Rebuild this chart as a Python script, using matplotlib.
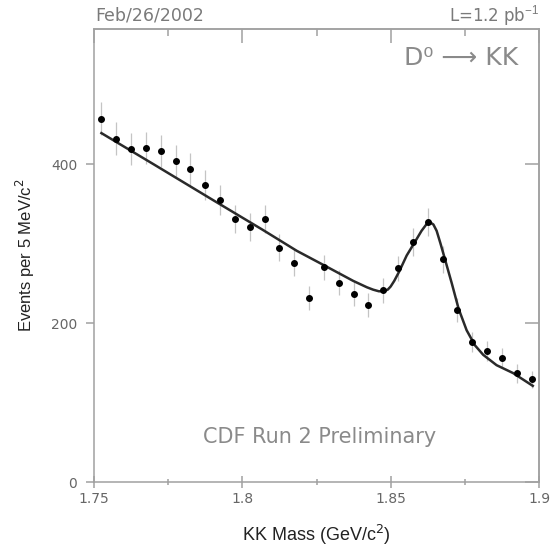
import matplotlib
matplotlib.use("Agg")
import matplotlib.pyplot as plt
from matplotlib.ticker import MultipleLocator

# KK invariant mass, bin centres (GeV/c^2) and counts per 5 MeV/c^2
mass = [1.7525, 1.7575, 1.7625, 1.7675, 1.7725, 1.7775, 1.7825, 1.7875,
        1.7925, 1.7975, 1.8025, 1.8075, 1.8125, 1.8175, 1.8225, 1.8275,
        1.8325, 1.8375, 1.8425, 1.8475, 1.8525, 1.8575, 1.8625, 1.8675,
        1.8725, 1.8775, 1.8825, 1.8875, 1.8925, 1.8975]
events = [457, 432, 419, 420, 416, 404, 394, 374, 355, 331, 321, 331, 295, 276, 232,
          270, 251, 237, 223, 241, 269, 302, 327, 280, 216, 176, 165, 156, 137, 129]
errors = [21, 21, 20, 20, 20, 20, 20, 19, 19, 18, 18, 18, 17, 17, 15,
          16, 16, 15, 15, 16, 16, 17, 18, 17, 15, 13, 13, 12, 12, 11]

# fitted curve
fit_x = [1.7525, 1.7700, 1.7900, 1.8070, 1.8183, 1.8284, 1.8374, 1.8420, 1.8441,
         1.8460, 1.8475, 1.8490, 1.8500, 1.8512, 1.8529, 1.8554, 1.8580, 1.8604,
         1.8620, 1.8632, 1.8644, 1.8655, 1.8668, 1.8681, 1.8706, 1.8729, 1.8756,
         1.8784, 1.8812, 1.8857, 1.8913, 1.8979]
fit_y = [439, 400, 355, 317, 291, 271, 253, 245, 242,
         240, 240, 242, 246, 253, 265, 285, 301, 316,
         324, 327, 324, 316, 300, 283, 250, 218, 191,
         172, 160, 147, 137, 121]

W, H = 550, 549
fig = plt.figure(figsize=(5.5, 5.49), dpi=100)
ax = fig.add_axes([94 / W, 1 - 482 / H, (539 - 94) / W, (482 - 29) / H])

spine_col = '#a0a0a0'
ax.errorbar(mass, events, yerr=errors, fmt='none', ecolor='#c4c4c4', elinewidth=0.9, zorder=2)
ax.plot(fit_x, fit_y, color='#2a2a2a', lw=1.8, zorder=3)
ax.plot(mass, events, 'o', color='black', ms=4, zorder=4)

ax.set_xlim(1.75, 1.9)
ax.set_ylim(0, 570)
for s in ax.spines.values():
    s.set_color(spine_col)
    s.set_linewidth(1.1)

ax.xaxis.set_major_locator(MultipleLocator(0.05))
ax.xaxis.set_minor_locator(MultipleLocator(0.025))
ax.yaxis.set_major_locator(MultipleLocator(200))
ax.set_xticks([1.75, 1.8, 1.85, 1.9])
ax.set_xticklabels(['1.75', '1.8', '1.85', '1.9'])

ax.tick_params(axis='x', which='major', direction='inout', length=9, width=1.1,
               color=spine_col, labelsize=10, labelcolor='#666666', pad=3, top=False)
ax.tick_params(axis='x', which='minor', direction='inout', length=4, width=1.1,
               color=spine_col, top=False)
ax.tick_params(axis='y', which='major', direction='out', length=6, width=1.1,
               color=spine_col, labelsize=10, labelcolor='#666666', pad=6)
for lab in ax.get_xticklabels() + ax.get_yticklabels():
    lab.set_family('DejaVu Sans')

# inward ticks on top and right
sec_x = ax.secondary_xaxis('top')
sec_x.set_xticks([1.75, 1.8, 1.85, 1.9])
sec_x.xaxis.set_minor_locator(MultipleLocator(0.025))
sec_x.tick_params(which='major', direction='in', length=10, width=1.1, color=spine_col, labeltop=False)
sec_x.tick_params(which='minor', direction='in', length=5, width=1.1, color=spine_col)
sec_x.spines['top'].set_color(spine_col)
sec_x.spines['top'].set_linewidth(1.1)
sec_y = ax.secondary_yaxis('right')
sec_y.set_yticks([0, 200, 400])
sec_y.tick_params(direction='in', length=10, width=1.1, color=spine_col, labelright=False)
sec_y.spines['right'].set_color(spine_col)
sec_y.spines['right'].set_linewidth(1.1)

ax.set_xlabel('KK Mass (GeV/c$^2$)', fontsize=13, color='#222222', family='Liberation Sans', labelpad=12)
ax.set_ylabel('Events per 5 MeV/c$^2$', fontsize=12, color='#222222', family='Liberation Sans', labelpad=10)
plt.rcParams['mathtext.fontset'] = 'custom'
plt.rcParams['mathtext.rm'] = 'Liberation Sans'

gray = '#7a7a7a'
fig.text(95 / W, 1 - 16 / H, 'Feb/26/2002', fontsize=12.5, color=gray, ha='left', va='center',
         family='DejaVu Sans')
fig.text(539 / W, 1 - 16 / H, 'L=1.2 pb$^{-1}$', fontsize=12, color=gray, ha='right', va='center',
         family='DejaVu Sans')
fig.text(518 / W, 1 - 58 / H, 'D\u2070 \u27f6 KK', fontsize=18, color='#8a8a8a', ha='right', va='center',
         family='DejaVu Sans')
fig.text(320 / W, 1 - 437 / H, 'CDF Run 2 Preliminary', fontsize=15, color='#8a8a8a', ha='center',
         va='center', family='DejaVu Sans')

fig.savefig('out.png', dpi=100)
